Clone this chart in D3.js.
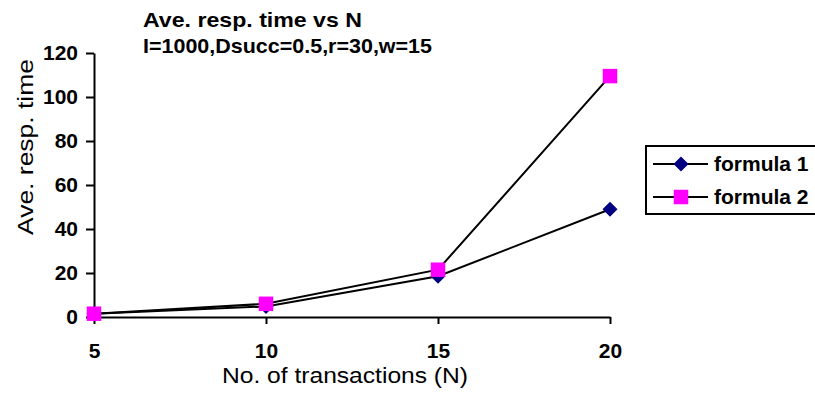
<!doctype html>
<html>
<head>
    <meta charset="utf-8">
    <title>Ave. resp. time vs N</title>
    <script src="https://cdn.jsdelivr.net/npm/d3@7"></script>
    <style>
        body { margin: 0; background: #fff; }
        svg { display: block; font-family: Arial, "Liberation Sans", sans-serif; }
    </style>
</head>
<body>
<svg id="chart" width="815" height="398"></svg>
<script>
// data
var transactions = [5, 10, 15, 20];
var formula1 = [1.5, 4.8, 18.5, 49];
var formula2 = [1.5, 6, 21.5, 109.5];
var yTicks = [0, 20, 40, 60, 80, 100, 120];
var seriesNames = ['formula 1', 'formula 2'];

var svg = d3.select('#chart');

var x = d3.scalePoint().domain(transactions).range([94, 610]);
var y = d3.scaleLinear().domain([0, 120]).range([317, 53]);

// title
var title = svg.append('g').style('font-weight', 'bold').style('font-size', '21px');
title.append('text').attr('x', 143).attr('y', 27)
    .attr('textLength', 219).attr('lengthAdjust', 'spacingAndGlyphs')
    .text('Ave. resp. time vs N');
title.append('text').attr('x', 143).attr('y', 53)
    .attr('textLength', 289).attr('lengthAdjust', 'spacingAndGlyphs')
    .text('I=1000,Dsucc=0.5,r=30,w=15');

// y axis
var yAxis = svg.append('g')
    .attr('transform', 'translate(94,0)')
    .call(d3.axisLeft(y).tickValues(yTicks).tickSize(8).tickSizeOuter(0).tickPadding(8));
yAxis.selectAll('text').style('font-size', '21px').style('font-weight', 'bold').attr('fill', '#000');

// x axis
var xAxis = svg.append('g')
    .attr('transform', 'translate(0,317)')
    .call(d3.axisBottom(x).tickSize(7).tickSizeOuter(0).tickPadding(19));
xAxis.selectAll('text').style('font-size', '21px').style('font-weight', 'bold').attr('fill', '#000');

svg.selectAll('.domain, .tick line').attr('stroke', '#000').attr('stroke-width', 2);
svg.selectAll('.tick text').style('font-family', 'Arial, "Liberation Sans", sans-serif');

// axis titles
svg.append('text')
    .attr('x', 345).attr('y', 383)
    .attr('text-anchor', 'middle')
    .style('font-size', '22px')
    .attr('textLength', 246).attr('lengthAdjust', 'spacingAndGlyphs')
    .text('No. of transactions (N)');

svg.append('text')
    .attr('transform', 'translate(33,147) rotate(-90)')
    .attr('text-anchor', 'middle')
    .style('font-size', '22px')
    .attr('textLength', 176).attr('lengthAdjust', 'spacingAndGlyphs')
    .text('Ave. resp. time');

// lines and markers
var series = [
    { name: seriesNames[0], values: formula1, color: '#000080', shape: d3.symbolSquare, size: 113, rotate: 45 },
    { name: seriesNames[1], values: formula2, color: '#FF00FF', shape: d3.symbolSquare, size: 210, rotate: 0 }
];

var line = d3.line()
    .x(function(d, i) { return x(transactions[i]); })
    .y(function(d) { return y(d); });

series.forEach(function(s) {
    svg.append('path')
        .datum(s.values)
        .attr('d', line)
        .attr('fill', 'none')
        .attr('stroke', '#000')
        .attr('stroke-width', 2);
});

series.forEach(function(s) {
    svg.append('g').selectAll('path')
        .data(s.values)
        .enter().append('path')
        .attr('d', d3.symbol().type(s.shape).size(s.size))
        .attr('transform', function(d, i) {
            return 'translate(' + x(transactions[i]) + ',' + y(d) + ') rotate(' + s.rotate + ')';
        })
        .attr('fill', s.color);
});

// legend
var legend = svg.append('g').attr('transform', 'translate(646,146)');
legend.append('rect')
    .attr('width', 175).attr('height', 68)
    .attr('fill', '#fff').attr('stroke', '#000').attr('stroke-width', 2);

var items = legend.selectAll('.item')
    .data(series)
    .enter().append('g')
    .attr('class', 'item')
    .attr('transform', function(d, i) { return 'translate(0,' + (18 + i * 33) + ')'; });

items.append('line')
    .attr('x1', 7).attr('x2', 62)
    .attr('stroke', '#000').attr('stroke-width', 2);
items.append('path')
    .attr('d', function(d) { return d3.symbol().type(d.shape).size(d.size)(); })
    .attr('transform', function(d) { return 'translate(35,0) rotate(' + d.rotate + ')'; })
    .attr('fill', function(d) { return d.color; });
items.append('text')
    .attr('x', 68).attr('dy', '0.35em')
    .style('font-size', '21px').style('font-weight', 'bold')
    .text(function(d) { return d.name; });
</script>
</body>
</html>
